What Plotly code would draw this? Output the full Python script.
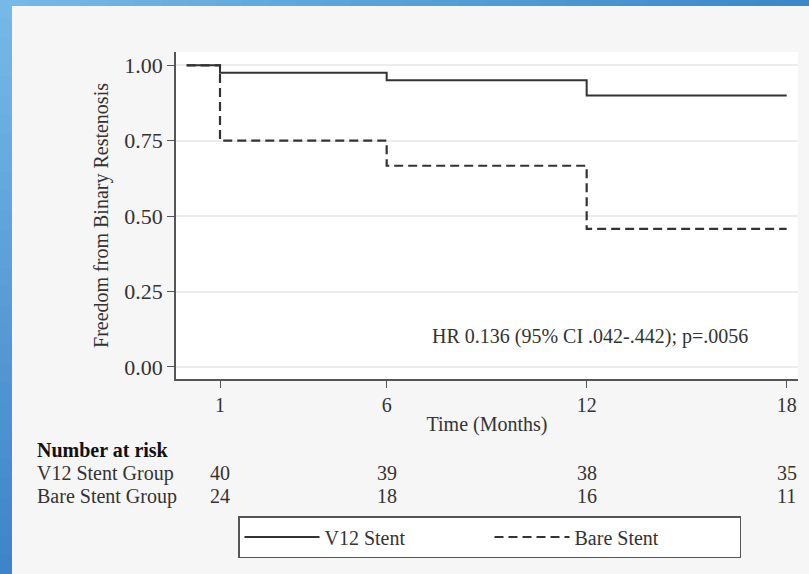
import plotly.graph_objects as go

# ---- data ----
times = [0, 1, 6, 12, 18]
v12_surv = [1.0, 0.975, 0.95, 0.90, 0.90]
bare_surv = [1.0, 0.75, 0.667, 0.458, 0.458]

risk_times = [1, 6, 12, 18]
risk_v12 = [40, 39, 38, 35]
risk_bare = [24, 18, 16, 11]
risk_labels = ["V12 Stent Group", "Bare Stent Group"]

y_ticks = [0, 0.25, 0.5, 0.75, 1.0]
y_ticklabels = ["0.00", "0.25", "0.50", "0.75", "1.00"]
x_ticks = [1, 6, 12, 18]

W, H = 809, 574
ML, MR, MT, MB = 176, 11, 52, 195
PW, PH = W - ML - MR, H - MT - MB

def px(x):
    return (x - ML) / PW

def py(y):
    return (H - MB - y) / PH

FONT = "Liberation Serif"
TXT = "#333333"
FS = 20

fig = go.Figure()
fig.add_trace(go.Scatter(x=times, y=v12_surv, mode="lines", line_shape="hv",
                         line=dict(color="#333333", width=2), name="V12 Stent"))
fig.add_trace(go.Scatter(x=times, y=bare_surv, mode="lines", line_shape="hv",
                         line=dict(color="#333333", width=2.2, dash="9px,5px"), name="Bare Stent"))

shapes = []
# blue gradient frame (decorative)
def lerp(c1, c2, t):
    return "rgb(%d,%d,%d)" % tuple(round(a + (b - a) * t) for a, b in zip(c1, c2))

n = 30
top_c1, top_c2 = (118, 184, 232), (60, 136, 200)
for i in range(n):
    x0 = i * W / n
    x1 = (i + 1) * W / n + 1
    shapes.append(dict(type="rect", xref="paper", yref="paper", x0=px(x0), x1=px(x1),
                       y0=py(6), y1=py(0), fillcolor=lerp(top_c1, top_c2, i / (n - 1)),
                       line=dict(width=0), layer="below"))
left_c1, left_c2 = (118, 184, 232), (62, 132, 200)
for i in range(n):
    y0 = i * H / n
    y1 = (i + 1) * H / n + 1
    shapes.append(dict(type="rect", xref="paper", yref="paper", x0=px(0), x1=px(12),
                       y0=py(y1), y1=py(y0), fillcolor=lerp(left_c1, left_c2, i / (n - 1)),
                       line=dict(width=0), layer="below"))

annotations = []
annotations.append(dict(x=12.1, y=0.10, xref="x", yref="y", text="HR 0.136 (95% CI .042-.442); p=.0056",
                        showarrow=False, font=dict(family=FONT, size=FS, color=TXT)))
annotations.append(dict(x=px(35), y=py(450), xref="paper", yref="paper", text="<b>Number at risk</b>",
                        showarrow=False, xanchor="left", yanchor="middle",
                        font=dict(family=FONT, size=FS, color="#111111")))
for label, vals, yy in [(risk_labels[0], risk_v12, 473), (risk_labels[1], risk_bare, 496)]:
    annotations.append(dict(x=px(35), y=py(yy), xref="paper", yref="paper", text=label,
                            showarrow=False, xanchor="left", yanchor="middle",
                            font=dict(family=FONT, size=FS, color=TXT)))
    for t, v in zip(risk_times, vals):
        annotations.append(dict(x=t, y=py(yy), xref="x", yref="paper", text=str(v),
                                showarrow=False, xanchor="center", yanchor="middle",
                                font=dict(family=FONT, size=FS, color=TXT)))

fig.update_layout(
    width=W, height=H,
    margin=dict(l=ML, r=MR, t=MT, b=MB),
    paper_bgcolor="#f6f6f6", plot_bgcolor="white",
    font=dict(family=FONT, size=FS, color=TXT),
    shapes=shapes, annotations=annotations,
    showlegend=True,
    legend=dict(orientation="h", x=px(238), xanchor="left", y=py(516), yanchor="top",
                bordercolor="#555555", borderwidth=1.5, bgcolor="white",
                font=dict(family=FONT, size=FS, color=TXT), itemwidth=75,
                entrywidth=160, entrywidthmode="pixels"),
    xaxis=dict(range=[-0.32, 18.34], tickvals=x_ticks, ticks="outside", ticklen=7,
               tickcolor="#555555", showline=True, linecolor="#555555", linewidth=1.5,
               showgrid=False, zeroline=False,
               title=dict(text="Time (Months)", standoff=2, font=dict(family=FONT, size=FS, color=TXT)),
               tickfont=dict(family=FONT, size=FS, color=TXT)),
    yaxis=dict(range=[-0.0398, 1.044], tickvals=y_ticks, ticktext=y_ticklabels, ticks="outside",
               ticklen=7, tickcolor="#555555", showline=True, linecolor="#555555", linewidth=1.5,
               showgrid=True, gridcolor="#ececec", gridwidth=1.5, zeroline=False,
               title=dict(text="Freedom from Binary Restenosis", standoff=10,
                          font=dict(family=FONT, size=FS, color=TXT)),
               tickfont=dict(family=FONT, size=22, color=TXT)),
)

fig.write_html("out.html", config={"displayModeBar": False},
               post_script="document.body.style.margin='0';document.body.style.overflow='hidden';")
